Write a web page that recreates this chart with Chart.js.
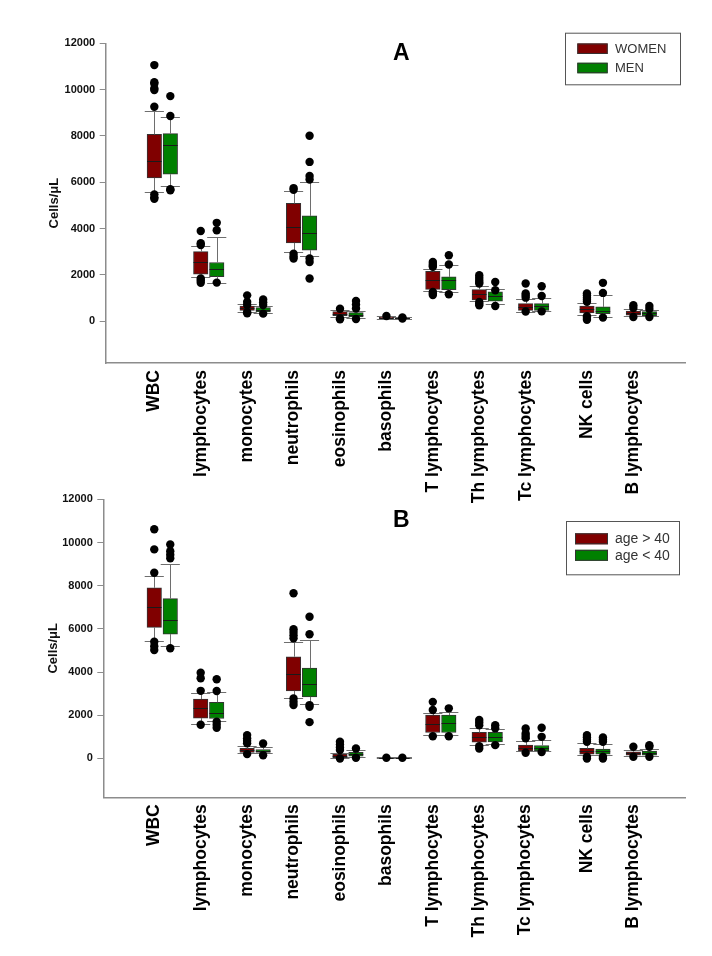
<!DOCTYPE html>
<html>
<head>
<meta charset="utf-8">
<script src="https://cdn.jsdelivr.net/npm/chart.js@4/dist/chart.umd.min.js"></script>
<style>
  html, body { margin: 0; padding: 0; background: #ffffff; }
  #wrap { position: relative; width: 712px; height: 956px; overflow: hidden; background: #ffffff; }
  canvas { position: absolute; left: 0; }
</style>
</head>
<body>
<div id="wrap">
  <canvas id="panelA" width="712" height="515" style="top:0px"></canvas>
  <canvas id="panelB" width="712" height="478" style="top:478px"></canvas>
</div>
<script>
// ---------------- data ----------------
const categories = ['WBC', 'lymphocytes', 'monocytes', 'neutrophils', 'eosinophils', 'basophils',
  'T lymphocytes', 'Th lymphocytes', 'Tc lymphocytes', 'NK cells', 'B lymphocytes'];
const yTickValues = [0, 2000, 4000, 6000, 8000, 10000, 12000];
const yAxisTitle = 'Cells/\u03BCL';
const panelLetters = ['A', 'B'];
const seriesNamesA = ['WOMEN', 'MEN'];
const seriesNamesB = ['age > 40', 'age < 40'];

// Panel A - women
const womenLow  = [5560, 1900, 420, 2980, 190, 80, 1310, 865, 420, 270, 215];
const womenQ1   = [6190, 2030, 475, 3385, 245, 120, 1380, 920, 475, 360, 260];
const womenMed  = [6910, 2550, 575, 4060, 315, 150, 1800, 1200, 635, 520, 375];
const womenQ3   = [8070, 3010, 660, 5090, 420, 180, 2160, 1370, 765, 660, 445];
const womenHigh = [9080, 3230, 765, 5630, 505, 220, 2260, 1525, 980, 790, 535];
const womenOut  = [[11060, 10320, 10250, 10050, 9980, 9260, 5480, 5350, 5290], [3900, 3370, 3290, 1850, 1760, 1660],
  [1120, 830, 700, 390, 350], [5750, 5680, 2920, 2800, 2710], [540, 120, 90], [230],
  [2560, 2470, 2400, 2350, 1270, 1200, 1130], [1990, 1880, 1780, 1700, 1630, 830, 760, 690],
  [1630, 1200, 1110, 1020, 420], [1200, 1110, 1020, 930, 840, 215, 140, 70], [690, 575, 185]];

// Panel A - men
const menLow  = [5850, 1670, 370, 2820, 160, 90, 1270, 765, 430, 185, 215];
const menQ1   = [6350, 1930, 400, 3070, 190, 110, 1370, 865, 475, 330, 245];
const menMed  = [7590, 2250, 505, 3830, 290, 130, 1800, 1080, 660, 445, 345];
const menQ3   = [8100, 2540, 590, 4550, 375, 160, 1915, 1270, 765, 620, 420];
const menHigh = [8820, 3620, 650, 6010, 460, 200, 2410, 1385, 1005, 1125, 505];
const menOut  = [[9720, 8860, 5700, 5660], [4250, 3930, 1670], [940, 820, 700, 330],
  [8010, 6880, 6270, 6120, 2710, 2560, 1850], [880, 720, 550, 100], [170, 120], [2850, 2450, 1170],
  [1700, 1340, 660], [1510, 1090, 430], [1660, 1225, 160], [660, 530, 185]];

// Panel B - age > 40
const over40Low  = [5420, 1575, 230, 2780, 0, 0, 1080, 615, 325, 140, 105];
const over40Q1   = [6070, 1870, 280, 3130, 30, 10, 1200, 755, 350, 200, 155];
const over40Med  = [7020, 2320, 385, 3890, 120, 30, 1590, 1000, 465, 340, 230];
const over40Q3   = [7900, 2750, 465, 4710, 200, 50, 2010, 1205, 615, 465, 305];
const over40High = [8450, 3040, 585, 5400, 260, 80, 2110, 1390, 800, 695, 385];
const over40Out  = [[10610, 9680, 8600, 5400, 5200, 5020], [3970, 3710, 3130, 1560], [1080, 930, 820, 700, 200],
  [7650, 5980, 5850, 5700, 5560, 2780, 2620, 2470], [770, 640, 510, 390, 0], [30], [2620, 2240, 1030],
  [1780, 1660, 1540, 570, 460], [1390, 1160, 1040, 930, 260], [1080, 980, 870, 770, 80, 0], [540, 75]];

// Panel B - age < 40
const under40Low  = [5200, 1740, 230, 2520, 75, 0, 1080, 650, 325, 140, 105];
const under40Q1   = [5760, 1850, 280, 2850, 105, 10, 1200, 770, 350, 200, 155];
const under40Med  = [6410, 2090, 350, 3460, 215, 30, 1620, 975, 490, 340, 260];
const under40Q3   = [7400, 2600, 415, 4180, 280, 50, 2010, 1205, 600, 430, 340];
const under40High = [8990, 3090, 540, 5480, 385, 80, 2130, 1345, 850, 650, 430];
const under40Out  = [[9910, 9600, 9430, 9270, 5100], [3670, 3120, 1700, 1560, 1420], [690, 150],
  [6560, 5750, 2470, 2390, 1680], [460, 30], [30], [2320, 1030], [1540, 1400, 615],
  [1420, 1000, 295], [970, 870, 770, 80, 0], [615, 540, 75]];

// ---------------- styling / layout ----------------
const FONT = "'Liberation Sans', Arial, Helvetica, sans-serif";
Chart.defaults.font.family = FONT;
Chart.defaults.color = '#000';
const RED = '#800000';
const GREEN = '#008000';
const GAP_AFTER = 9;      // extra space before 'NK cells'
const GAP_SIZE = 0.32;
const xOf = i => i + (i >= GAP_AFTER ? GAP_SIZE : 0);

const boxPlotPlugin = {
  id: 'boxPlot',
  afterDatasetDraw(chart, args) {
    const ds = chart.data.datasets[args.index];
    if (!ds.box) return;
    const ys = chart.scales.y;
    const ctx = chart.ctx;
    const b = ds.box;
    ctx.save();
    args.meta.data.forEach((bar, i) => {
      const p = bar.getProps(['x', 'width'], true);
      const cx = Math.round(p.x) + 0.5;
      const half = p.width / 2;
      const capHalf = p.width * 0.66;
      const yLow = Math.round(ys.getPixelForValue(b.low[i])) + 0.5;
      const yHigh = Math.round(ys.getPixelForValue(b.high[i])) + 0.5;
      const yQ1 = ys.getPixelForValue(b.q1[i]);
      const yQ3 = ys.getPixelForValue(b.q3[i]);
      const yMed = Math.round(ys.getPixelForValue(b.med[i])) + 0.5;
      ctx.strokeStyle = '#6e6e6e';
      ctx.lineWidth = 1;
      ctx.beginPath();
      ctx.moveTo(cx, yQ3); ctx.lineTo(cx, yHigh);
      ctx.moveTo(cx, yQ1); ctx.lineTo(cx, yLow);
      ctx.moveTo(p.x - capHalf, yHigh); ctx.lineTo(p.x + capHalf, yHigh);
      ctx.moveTo(p.x - capHalf, yLow); ctx.lineTo(p.x + capHalf, yLow);
      ctx.stroke();
      ctx.strokeStyle = '#1a1a1a';
      ctx.beginPath();
      ctx.moveTo(p.x - half, yMed); ctx.lineTo(p.x + half, yMed);
      ctx.stroke();
    });
    ctx.restore();
  },
  afterDatasetsDraw(chart) {
    const ys = chart.scales.y;
    const ctx = chart.ctx;
    ctx.save();
    ctx.fillStyle = '#000';
    chart.data.datasets.forEach((ds, di) => {
      if (!ds.box) return;
      const meta = chart.getDatasetMeta(di);
      meta.data.forEach((bar, i) => {
        const p = bar.getProps(['x'], true);
        ds.box.out[i].forEach(v => {
          ctx.beginPath();
          ctx.arc(p.x, ys.getPixelForValue(v), 4.2, 0, Math.PI * 2);
          ctx.fill();
        });
      });
    });
    ctx.restore();
  }
};

const decorPlugin = {
  id: 'panelDecor',
  afterDraw(chart, args, o) {
    const ctx = chart.ctx;
    ctx.save();
    // panel letter
    ctx.fillStyle = '#000';
    ctx.font = 'bold 23px ' + FONT;
    ctx.textAlign = 'center';
    ctx.textBaseline = 'middle';
    ctx.fillText(o.letter, o.letterX, o.letterY);
    // legend
    const L = o.legend;
    ctx.strokeStyle = '#555';
    ctx.lineWidth = 1;
    ctx.strokeRect(L.x + 0.5, L.y + 0.5, L.w, L.h);
    ctx.font = L.fontSize + 'px ' + FONT;
    ctx.textAlign = 'left';
    ctx.textBaseline = 'middle';
    chart.data.datasets.forEach((ds, k) => {
      const cy = L.rows[k];
      ctx.fillStyle = ds.backgroundColor;
      ctx.fillRect(L.swX, cy - L.swH / 2, L.swW, L.swH);
      ctx.strokeStyle = '#333';
      ctx.strokeRect(L.swX + 0.5, cy - L.swH / 2 + 0.5, L.swW - 1, L.swH - 1);
      ctx.fillStyle = '#333';
      ctx.fillText(ds.label, L.textX, cy + 0.5);
    });
    ctx.restore();
  }
};

function boxDataset(name, color, low, q1, med, q3, high, out) {
  return {
    type: 'bar',
    label: name,
    backgroundColor: color,
    borderColor: '#333',
    borderWidth: 1,
    borderSkipped: false,
    barThickness: 16,
    maxBarThickness: 14.5,
    order: 1,
    data: categories.map((c, i) => ({ x: xOf(i), y: [q1[i], q3[i]] })),
    box: { low, q1, med, q3, high, out }
  };
}

function buildPanel(id, datasets, L) {
  new Chart(document.getElementById(id), {
    type: 'bar',
    data: { datasets },
    options: {
      responsive: false,
      animation: false,
      devicePixelRatio: 1,
      layout: { padding: { left: 0, top: L.top, right: L.right, bottom: 0 } },
      plugins: {
        legend: { display: false },
        tooltip: { enabled: false },
        panelDecor: L.decor
      },
      scales: {
        x: {
          type: 'linear',
          min: L.xMin, max: L.xMax,
          offset: false,
          grid: { display: false, drawTicks: false },
          border: { display: true, color: '#8c8c8c', width: 1.5 },
          afterBuildTicks: s => { s.ticks = categories.map((c, i) => ({ value: xOf(i) })); },
          afterFit: s => { s.height = L.xAxisH; },
          ticks: {
            autoSkip: false, minRotation: 90, maxRotation: 90, padding: 7, labelOffset: -8,
            color: '#000', font: { size: 17.5, weight: 'bold' },
            callback: (v, i) => categories[i]
          }
        },
        y: {
          type: 'linear',
          min: -1800, max: 12000,
          afterBuildTicks: s => { s.ticks = yTickValues.map(v => ({ value: v })); },
          afterFit: s => { s.width = L.yAxisW; },
          grid: { drawOnChartArea: false, drawTicks: true, tickLength: 6, tickColor: '#8c8c8c', tickWidth: 1 },
          border: { display: true, color: '#8c8c8c', width: 1.5 },
          ticks: { padding: 4.5, color: '#111', font: { size: 11, weight: 'bold' }, callback: v => String(v) },
          title: { display: true, text: yAxisTitle, color: '#111', font: { size: 13, weight: 'bold' },
                   padding: { top: L.titlePad, bottom: 0 } }
        }
      }
    },
    plugins: [boxPlotPlugin, decorPlugin]
  });
}

buildPanel('panelA', [
  boxDataset(seriesNamesA[0], RED, womenLow, womenQ1, womenMed, womenQ3, womenHigh, womenOut),
  boxDataset(seriesNamesA[1], GREEN, menLow, menQ1, menMed, menQ3, menHigh, menOut)
], {
  top: 43.3, right: 27, xAxisH: 152, yAxisW: 105.7, titlePad: 47, xMin: -1.22, xMax: 11.26,
  decor: {
    letter: panelLetters[0], letterX: 401.3, letterY: 53.3,
    legend: { x: 565, y: 32.7, w: 115, h: 51.6, swX: 577.3, swW: 30.4, swH: 10.5,
              rows: [48.7, 68], textX: 615, fontSize: 13 }
  }
});

buildPanel('panelB', [
  boxDataset(seriesNamesB[0], RED, over40Low, over40Q1, over40Med, over40Q3, over40High, over40Out),
  boxDataset(seriesNamesB[1], GREEN, under40Low, under40Q1, under40Med, under40Q3, under40High, under40Out)
], {
  top: 21.3, right: 27, xAxisH: 158.7, yAxisW: 103.3, titlePad: 45.5, xMin: -1.27, xMax: 11.26,
  decor: {
    letter: panelLetters[1], letterX: 401.3, letterY: 42.5,
    legend: { x: 566, y: 43, w: 113, h: 53.3, swX: 575, swW: 33, swH: 11,
              rows: [60.8, 77.3], textX: 615, fontSize: 14 }
  }
});
</script>
</body>
</html>
